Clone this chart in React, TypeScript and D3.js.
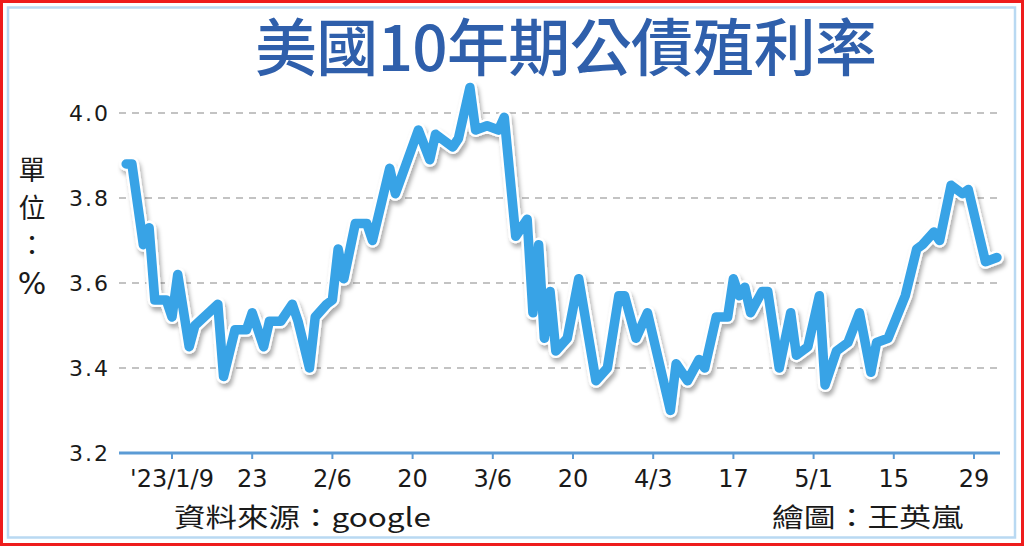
import React from "react";
import * as d3 from "d3";

// 美國10年期公債殖利率 (%), sampled along the trading period
const dates: string[] = [
  "2023-01-01", "2023-01-02", "2023-01-04", "2023-01-05", "2023-01-06", "2023-01-08", "2023-01-09", "2023-01-10", "2023-01-12", "2023-01-13",
  "2023-01-17", "2023-01-18", "2023-01-20", "2023-01-22", "2023-01-23", "2023-01-25", "2023-01-26", "2023-01-28", "2023-01-30", "2023-01-31",
  "2023-02-02", "2023-02-03", "2023-02-05", "2023-02-06", "2023-02-07", "2023-02-08", "2023-02-10", "2023-02-12", "2023-02-13", "2023-02-16",
  "2023-02-17", "2023-02-21", "2023-02-23", "2023-02-24", "2023-02-27", "2023-02-28", "2023-03-02", "2023-03-03", "2023-03-05", "2023-03-07",
  "2023-03-08", "2023-03-10", "2023-03-12", "2023-03-13", "2023-03-14", "2023-03-15", "2023-03-16", "2023-03-17", "2023-03-19", "2023-03-21",
  "2023-03-24", "2023-03-26", "2023-03-28", "2023-03-29", "2023-03-31", "2023-04-02", "2023-04-06", "2023-04-07", "2023-04-09", "2023-04-11",
  "2023-04-12", "2023-04-14", "2023-04-16", "2023-04-17", "2023-04-18", "2023-04-19", "2023-04-20", "2023-04-22", "2023-04-23", "2023-04-25",
  "2023-04-27", "2023-04-28", "2023-04-30", "2023-05-02", "2023-05-03", "2023-05-05", "2023-05-07", "2023-05-09", "2023-05-11", "2023-05-12",
  "2023-05-14", "2023-05-17", "2023-05-19", "2023-05-20", "2023-05-22", "2023-05-23", "2023-05-25", "2023-05-27", "2023-05-28", "2023-05-31",
  "2023-06-02",
];

const yields: number[] = [
  3.88, 3.88, 3.69, 3.73, 3.56, 3.56, 3.52, 3.62, 3.45, 3.50,
  3.55, 3.38, 3.49, 3.49, 3.53, 3.45, 3.51, 3.51, 3.55, 3.51,
  3.40, 3.52, 3.55, 3.56, 3.68, 3.61, 3.74, 3.74, 3.70, 3.87,
  3.81, 3.96, 3.89, 3.95, 3.92, 3.94, 4.06, 3.96, 3.97, 3.96,
  3.99, 3.71, 3.75, 3.53, 3.69, 3.47, 3.58, 3.44, 3.47, 3.61,
  3.37, 3.40, 3.57, 3.57, 3.47, 3.53, 3.30, 3.41, 3.37, 3.42,
  3.40, 3.52, 3.52, 3.61, 3.57, 3.59, 3.53, 3.58, 3.58, 3.40,
  3.53, 3.43, 3.45, 3.57, 3.36, 3.44, 3.46, 3.53, 3.39, 3.46,
  3.47, 3.57, 3.68, 3.69, 3.72, 3.70, 3.83, 3.81, 3.82, 3.65,
  3.66,
];

const tickDates: string[] = [
  "2023-01-09", "2023-01-23", "2023-02-06", "2023-02-20", "2023-03-06", "2023-03-20",
  "2023-04-03", "2023-04-17", "2023-05-01", "2023-05-15", "2023-05-29",
];
const tickLabels: string[] = ["'23/1/9", "23", "2/6", "20", "3/6", "20", "4/3", "17", "5/1", "15", "29"];

const yTicks: number[] = [3.2, 3.4, 3.6, 3.8, 4.0];

const unitChars: string[] = ["單", "位", "：", "%"];

const W = 1024;
const H = 546;
const parse = d3.utcParse("%Y-%m-%d");

const x = d3
  .scaleUtc()
  .domain([parse(tickDates[0])!, parse(tickDates[tickDates.length - 1])!])
  .range([172, 974]);
const y = d3.scaleLinear().domain([3.2, 4.0]).range([453, 113]);

const points: [Date, number][] = dates.map((d, i) => [parse(d)!, yields[i]]);
const line = d3
  .line<[Date, number]>()
  .x((d) => x(d[0]))
  .y((d) => y(d[1]))
  .curve(d3.curveLinear);

const gridX0 = 119;
const gridX1 = 1000;
const LINE_BLUE = "#39a3e6";
const AXIS_BLUE = "#5b9bd5";
const CJK = "'Noto Sans CJK TC', 'Noto Sans CJK SC', sans-serif";
const LATIN = "'DejaVu Sans', Verdana, sans-serif";

// baselines of the stacked unit label
const unitBaselines: number[] = [180, 218, 255, 294];

export default function App() {
  const d = line(points) || "";
  return (
    <svg
      width={W}
      height={H}
      viewBox={`0 0 ${W} ${H}`}
      style={{ position: "absolute", left: 0, top: 0, display: "block", background: "#fff" }}
    >
      <defs>
        <filter id="lineShadow" x="-5%" y="-10%" width="110%" height="125%">
          <feDropShadow dx="2" dy="4" stdDeviation="2.2" floodColor="#000" floodOpacity="0.32" />
        </filter>
      </defs>

      {/* frame */}
      <rect x={1.5} y={1.5} width={W - 3} height={H - 3} fill="#fff" stroke="#ee1c1c" strokeWidth={3} />
      <rect x={8} y={7.5} width={1007} height={530} fill="none" stroke="#b9d9f2" strokeWidth={2.5} />

      {/* title */}
      <text
        x={566}
        y={71}
        textAnchor="middle"
        fontFamily={CJK}
        fontWeight={500}
        fontSize={62}
        fill="#2f5fab"
        textLength={622}
        lengthAdjust="spacing"
      >
        美國10年期公債殖利率
      </text>

      {/* unit label, stacked vertically */}
      {unitChars.map((ch, i) => (
        <text
          key={i}
          x={32}
          y={unitBaselines[i]}
          textAnchor="middle"
          fontFamily={ch === "%" ? LATIN : CJK}
          fontSize={ch === "%" ? 30 : 27}
          fill="#1a1a1a"
        >
          {ch}
        </text>
      ))}

      {/* gridlines */}
      {yTicks
        .filter((v) => v > 3.2)
        .map((v) => (
          <line
            key={v}
            x1={gridX0}
            x2={gridX1}
            y1={y(v)}
            y2={y(v)}
            stroke="#b0b0b0"
            strokeWidth={1.5}
            strokeDasharray="7 6"
          />
        ))}

      {/* y tick labels */}
      {yTicks.map((v) => (
        <text
          key={v}
          x={110}
          y={y(v) + 8}
          textAnchor="end"
          fontFamily={LATIN}
          fontSize={22}
          letterSpacing={2}
          fill="#1a1a1a"
        >
          {v.toFixed(1)}
        </text>
      ))}

      {/* x axis */}
      <line x1={gridX0} x2={gridX1} y1={y(3.2)} y2={y(3.2)} stroke={AXIS_BLUE} strokeWidth={3} />
      {tickDates.map((t, i) => {
        const px = x(parse(t)!);
        return (
          <g key={t}>
            <line x1={px} x2={px} y1={y(3.2)} y2={y(3.2) + 6} stroke={AXIS_BLUE} strokeWidth={2} />
            <text
              x={px}
              y={487}
              textAnchor="middle"
              fontFamily={LATIN}
              fontSize={24}
              fill="#1a1a1a"
            >
              {tickLabels[i]}
            </text>
          </g>
        );
      })}

      {/* yield line with white halo and soft shadow */}
      <g filter="url(#lineShadow)">
        <path d={d} fill="none" stroke="#fff" strokeWidth={14} strokeLinejoin="round" strokeLinecap="round" />
        <path d={d} fill="none" stroke={LINE_BLUE} strokeWidth={9.5} strokeLinejoin="round" strokeLinecap="round" />
      </g>

      {/* footer */}
      <text
        x={174}
        y={527}
        fontFamily={CJK}
        fontSize={26}
        fill="#1a1a1a"
        textLength={257}
        lengthAdjust="spacingAndGlyphs"
      >
        資料來源：google
      </text>
      <text
        x={772}
        y={527}
        fontFamily={CJK}
        fontSize={26}
        fill="#1a1a1a"
        textLength={191}
        lengthAdjust="spacingAndGlyphs"
      >
        繪圖：王英嵐
      </text>
    </svg>
  );
}
